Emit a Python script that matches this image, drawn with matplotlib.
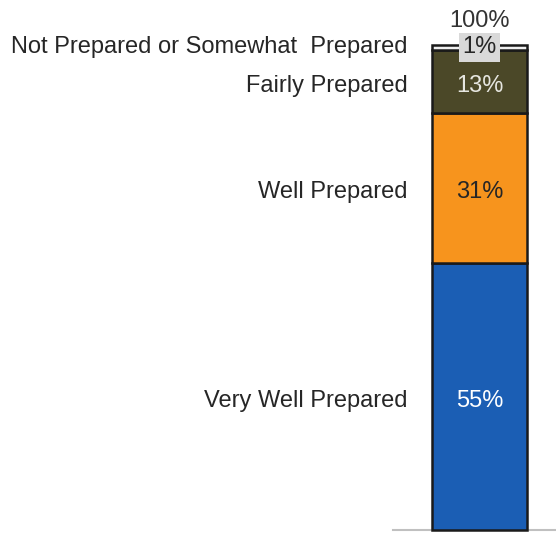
import matplotlib.pyplot as plt

# ---------------------------
# Data
# ---------------------------
categories = ["Very Well Prepared", "Well Prepared", "Fairly Prepared",
              "Not Prepared or Somewhat  Prepared"]
values = [55, 31, 13, 1]
value_labels = ["55%", "31%", "13%", "1%"]
total_label = "100%"

colors = ["#1b5eb4", "#f7941d", "#4b4828", "#efefef"]
text_colors = ["white", "#262626", "#e6e6e0", "#262626"]

plt.rcParams['font.family'] = ['Liberation Sans', 'DejaVu Sans']

fig = plt.figure(figsize=(5.56, 5.33), dpi=100)
ax = fig.add_axes([393 / 556, 3 / 533, 163 / 556, 485 / 533])
ax.set_xlim(0, 1)
ax.set_ylim(0, 100)
ax.axis("off")

bar_x = 0.531
bar_w = 0.583
label_x = 0.092
fs = 17

bottom = 0
for cat, v, lab, c, tc in zip(categories, values, value_labels, colors, text_colors):
    ax.bar(bar_x, v, bottom=bottom, width=bar_w, color=c,
           edgecolor="#1a1a1a", linewidth=1.8, clip_on=False)
    mid = bottom + v / 2
    # text sits a little below the segment centre in the original
    ty = mid - 0.9 if v >= 5 else mid
    ax.text(label_x, ty, cat, ha="right", va="center", fontsize=fs,
            color="#262626", clip_on=False)
    box = None
    if v < 5:
        box = dict(boxstyle="square,pad=0.15", facecolor="#d9d9d9", edgecolor="none")
    ax.text(bar_x, ty, lab, ha="center", va="center", fontsize=fs,
            color=tc, bbox=box, clip_on=False)
    bottom += v

ax.text(bar_x, 105.0, total_label, ha="center", va="center", fontsize=fs,
        color="#333333", clip_on=False)

# baseline
ax.plot([0, 1], [0, 0], color="#c0c0c0", linewidth=1.5, clip_on=False, zorder=0)

fig.savefig("out.png", dpi=100)
